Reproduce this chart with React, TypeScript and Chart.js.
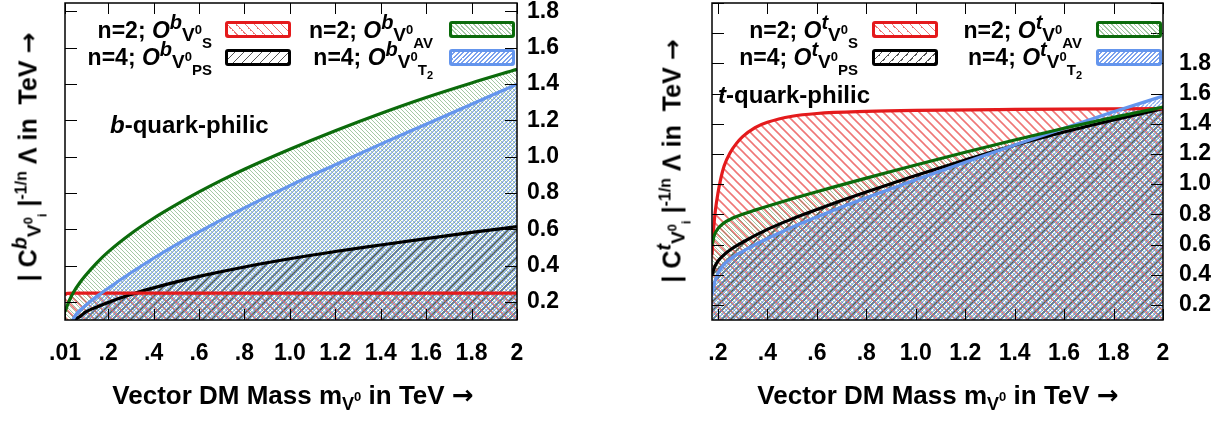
import React, { useEffect, useRef } from "react";
import { Chart, registerables } from "chart.js";
Chart.register(...registerables);

const FONT = '"Liberation Sans", Arial, Helvetica, sans-serif';
const ARROW_FONT = '"DejaVu Sans", "Liberation Sans", sans-serif';

// ---------- axis ticks ----------
const bXTicks = [0.01, 0.2, 0.4, 0.6, 0.8, 1.0, 1.2, 1.4, 1.6, 1.8, 2.0];
const bXLabels = [".01", ".2", ".4", ".6", ".8", "1.0", "1.2", "1.4", "1.6", "1.8", "2"];
const tXTicks = [0.2, 0.4, 0.6, 0.8, 1.0, 1.2, 1.4, 1.6, 1.8, 2.0];
const tXLabels = [".2", ".4", ".6", ".8", "1.0", "1.2", "1.4", "1.6", "1.8", "2"];
const bYTicks = [0.2, 0.4, 0.6, 0.8, 1.0, 1.2, 1.4, 1.6, 1.8];
const bYLabels = ["0.2", "0.4", "0.6", "0.8", "1.0", "1.2", "1.4", "1.6", "1.8"];
const tYTicks = [0.2, 0.4, 0.6, 0.8, 1.0, 1.2, 1.4, 1.6, 1.8, 2.0, 2.2];
const tYLabels = ["0.2", "0.4", "0.6", "0.8", "1.0", "1.2", "1.4", "1.6", "1.8", "", ""];

// ---------- b-quark-philic (left) ----------
const bRedMass = [0.01, 0.02, 0.05, 0.5, 1.0, 1.5, 2.0];
const bRedVal = [0.238, 0.247, 0.248, 0.248, 0.248, 0.248, 0.248];
const bGreenMass = [0.01, 0.02, 0.03, 0.05, 0.075, 0.1, 0.15, 0.2, 0.3, 0.4, 0.5, 0.6, 0.7, 0.8, 1.0, 1.2, 1.4, 1.6, 1.8, 2.0];
const bGreenVal = [0.145, 0.18, 0.21, 0.258, 0.305, 0.345, 0.415, 0.475, 0.575, 0.66, 0.735, 0.805, 0.87, 0.93, 1.04, 1.142, 1.237, 1.325, 1.405, 1.48];
const bBlueMass = [0.044, 0.06, 0.08, 0.1, 0.15, 0.2, 0.3, 0.4, 0.5, 0.6, 0.8, 1.0, 1.2, 1.4, 1.6, 1.8, 2.0];
const bBlueVal = [0.1, 0.133, 0.158, 0.18, 0.23, 0.275, 0.36, 0.44, 0.515, 0.585, 0.717, 0.84, 0.955, 1.068, 1.178, 1.288, 1.398];
const bBlackMass = [0.05, 0.08, 0.1, 0.15, 0.2, 0.3, 0.4, 0.5, 0.6, 0.8, 1.0, 1.2, 1.4, 1.6, 1.8, 2.0];
const bBlackVal = [0.1, 0.123, 0.143, 0.172, 0.197, 0.24, 0.277, 0.31, 0.34, 0.392, 0.437, 0.477, 0.513, 0.548, 0.582, 0.614];

// ---------- t-quark-philic (right) ----------
const tRedMass = [0.176, 0.18, 0.185, 0.19, 0.2, 0.21, 0.225, 0.25, 0.275, 0.3, 0.35, 0.4, 0.5, 0.6, 0.8, 1.0, 1.4, 2.0];
const tRedVal = [0.53, 0.64, 0.75, 0.83, 0.94, 1.025, 1.12, 1.21, 1.27, 1.315, 1.375, 1.41, 1.45, 1.468, 1.482, 1.489, 1.495, 1.5];
const tGreenMass = [0.176, 0.185, 0.2, 0.22, 0.25, 0.3, 0.35, 0.4, 0.5, 0.6, 0.7, 0.8, 0.9, 1.0, 1.2, 1.4, 1.6, 1.8, 2.0];
const tGreenVal = [0.6, 0.66, 0.705, 0.738, 0.767, 0.8, 0.828, 0.854, 0.903, 0.95, 0.995, 1.04, 1.084, 1.127, 1.211, 1.292, 1.37, 1.443, 1.51];
const tBlackMass = [0.176, 0.185, 0.2, 0.22, 0.25, 0.3, 0.4, 0.5, 0.6, 0.7, 0.8, 0.9, 1.0, 1.2, 1.4, 1.6, 1.8, 2.0];
const tBlackVal = [0.4, 0.445, 0.49, 0.525, 0.565, 0.615, 0.7, 0.77, 0.832, 0.891, 0.948, 1.003, 1.057, 1.16, 1.258, 1.345, 1.425, 1.5];
const tBlueMass = [0.176, 0.185, 0.2, 0.22, 0.25, 0.3, 0.4, 0.5, 0.6, 0.7, 0.8, 0.9, 1.0, 1.2, 1.4, 1.6, 1.8, 2.0];
const tBlueVal = [0.27, 0.34, 0.41, 0.46, 0.505, 0.555, 0.64, 0.715, 0.783, 0.848, 0.91, 0.97, 1.029, 1.145, 1.259, 1.371, 1.479, 1.583];

const RED = "#e41a1c";
const GREEN = "#0b6b0b";
const BLUE = "#6495ed";
const BLACK = "#000000";
const RED_H = "rgba(236,95,95,0.85)";
const GREEN_H = "rgba(90,155,90,0.55)";
const BLUE_H = "rgba(100,145,235,0.85)";
const BLACK_H = "rgba(40,40,40,0.8)";

function hatch(color: string, step: number, dir: "back" | "fwd", lw: number) {
  const c = document.createElement("canvas");
  c.width = step;
  c.height = step;
  const g = c.getContext("2d")!;
  g.strokeStyle = color;
  g.lineWidth = lw;
  g.beginPath();
  if (dir === "back") {
    g.moveTo(-1, -1); g.lineTo(step + 1, step + 1);
    g.moveTo(-1, step - 1); g.lineTo(1, step + 1);
    g.moveTo(step - 1, -1); g.lineTo(step + 1, 1);
  } else {
    g.moveTo(-1, step + 1); g.lineTo(step + 1, -1);
    g.moveTo(-1, 1); g.lineTo(1, -1);
    g.moveTo(step - 1, step + 1); g.lineTo(step + 1, step - 1);
  }
  g.stroke();
  return g.createPattern(c, "repeat")!;
}

function series(mass: number[], vals: number[], color: string, pattern: any) {
  return {
    data: mass.map((m, i) => ({ x: m, y: vals[i] })),
    borderColor: color,
    borderWidth: 3.2,
    pointRadius: 0,
    fill: "start",
    backgroundColor: pattern,
    cubicInterpolationMode: "monotone",
  };
}

const framePlugin = {
  id: "frame",
  afterDatasetsDraw(chart: any, _args: any, opts: any) {
    const { ctx, chartArea: a, scales } = chart;
    ctx.save();
    ctx.strokeStyle = "#000";
    ctx.lineWidth = 1;
    ctx.beginPath();
    for (const v of opts.xTicks) {
      const x = Math.round(scales.x.getPixelForValue(v)) + 0.5;
      ctx.moveTo(x, a.bottom); ctx.lineTo(x, a.bottom - 11);
      ctx.moveTo(x, a.top); ctx.lineTo(x, a.top + 11);
    }
    for (const v of opts.yTicks) {
      const y = Math.round(scales.y.getPixelForValue(v)) + 0.5;
      ctx.moveTo(a.left, y); ctx.lineTo(a.left + 12, y);
      ctx.moveTo(a.right, y); ctx.lineTo(a.right - 12, y);
    }
    ctx.stroke();
    ctx.lineWidth = 1.5;
    ctx.strokeRect(a.left, a.top, a.right - a.left, a.bottom - a.top);
    ctx.restore();
  },
};

type Spec = {
  datasets: any[];
  xMin: number; xMax: number; xTicks: number[]; xLabels: string[];
  yMin: number; yMax: number; yTicks: number[]; yLabels: string[];
  padLeft: number; yWidth: number; yPad: number;
};

function build(canvas: HTMLCanvasElement, s: Spec) {
  const tickFont = { family: FONT, size: 23, weight: "bold" as const };
  return new Chart(canvas, {
    type: "line",
    data: { datasets: s.datasets as any },
    options: {
      animation: false,
      responsive: false,
      events: [],
      layout: { padding: { left: s.padLeft, top: 3, right: 0, bottom: 0 } },
      plugins: {
        legend: { display: false },
        tooltip: { enabled: false },
        filler: { drawTime: "beforeDatasetsDraw" },
        frame: { xTicks: s.xTicks, yTicks: s.yTicks },
      } as any,
      scales: {
        x: {
          type: "linear",
          min: s.xMin,
          max: s.xMax,
          grid: { display: false, drawTicks: false },
          border: { display: false },
          afterBuildTicks: (sc: any) => { sc.ticks = s.xTicks.map((v) => ({ value: v })); },
          afterFit: (sc: any) => { sc.height = 101; sc.paddingLeft = 0; sc.paddingRight = 0; },
          ticks: {
            autoSkip: false, maxRotation: 0, minRotation: 0, padding: 20, color: "#000", font: tickFont,
            callback: (_v: any, i: number) => s.xLabels[i],
          },
        },
        y: {
          type: "linear",
          position: "right",
          min: s.yMin,
          max: s.yMax,
          grid: { display: false, drawTicks: false },
          border: { display: false },
          afterBuildTicks: (sc: any) => { sc.ticks = s.yTicks.map((v) => ({ value: v })); },
          afterFit: (sc: any) => { sc.width = s.yWidth; sc.paddingTop = 0; sc.paddingBottom = 0; },
          ticks: {
            autoSkip: false, padding: s.yPad, color: "#000", font: tickFont,
            callback: (_v: any, i: number) => s.yLabels[i],
          },
        },
      },
    },
    plugins: [framePlugin as any],
  });
}

const boldText: React.CSSProperties = { fontFamily: FONT, fontWeight: 700, color: "#000", whiteSpace: "nowrap", position: "absolute" };

function OpLabel({ n, q, sub, sub2 }: { n: number; q: string; sub: string; sub2?: string }) {
  return (
    <span>
      n={n}; <i>O</i>
      <span style={{ fontSize: 20, fontStyle: "italic", position: "relative", top: -9 }}>{q}</span>
      <span style={{ fontSize: 19, position: "relative", top: 3 }}>V</span>
      <span style={{ fontSize: 13, position: "relative", top: -4 }}>0</span>
      <span style={{ fontSize: 15, position: "relative", top: 10 }}>
        {sub}
        {sub2 ? <span style={{ fontSize: 11, position: "relative", top: 4 }}>{sub2}</span> : null}
      </span>
    </span>
  );
}

function Swatch({ left, top, color, hatchColor, step, dir }: { left: number; top: number; color: string; hatchColor: string; step: number; dir: "back" | "fwd" }) {
  const p = step / Math.SQRT2;
  const ang = dir === "back" ? "45deg" : "-45deg";
  return (
    <div
      style={{
        position: "absolute", left, top, width: 66, height: 17, boxSizing: "border-box",
        border: `3px solid ${color}`, borderRadius: 3,
        background: `repeating-linear-gradient(${ang}, ${hatchColor} 0px, ${hatchColor} 1.2px, transparent 1.2px, transparent ${p}px)`,
      }}
    />
  );
}

function Legend({ q, x1, s1, x2, s2 }: { q: string; x1: number; s1: number; x2: number; s2: number }) {
  const row1 = 19;
  const row2 = 46;
  const tStyle = (xEnd: number, top: number): React.CSSProperties => ({ ...boldText, fontSize: 23, lineHeight: "23px", right: 1222 - xEnd, top });
  return (
    <>
      <div style={tStyle(x1, row1)}><OpLabel n={2} q={q} sub="S" /></div>
      <Swatch left={s1} top={21} color={RED} hatchColor={RED_H} step={9} dir="back" />
      <div style={tStyle(x2, row1)}><OpLabel n={2} q={q} sub="AV" /></div>
      <Swatch left={s2} top={21} color={GREEN} hatchColor={GREEN_H} step={4.5} dir="back" />
      <div style={tStyle(x1, row2)}><OpLabel n={4} q={q} sub="PS" /></div>
      <Swatch left={s1} top={49} color={BLACK} hatchColor={BLACK_H} step={9} dir="fwd" />
      <div style={tStyle(x2, row2)}><OpLabel n={4} q={q} sub="T" sub2="2" /></div>
      <Swatch left={s2} top={49} color={BLUE} hatchColor={BLUE_H} step={4.5} dir="fwd" />
    </>
  );
}

function YTitle({ q, cx, cy }: { q: string; cx: number; cy: number }) {
  return (
    <div style={{ ...boldText, fontSize: 25, left: cx, top: cy, transform: "translate(-50%,-50%) rotate(-90deg)" }}>
      | C
      <span style={{ fontSize: 20, fontStyle: "italic", position: "relative", top: -10 }}>{q}</span>
      <span style={{ fontSize: 19, position: "relative", top: 4 }}>V</span>
      <span style={{ fontSize: 13, position: "relative", top: -4 }}>0</span>
      <span style={{ fontSize: 13, position: "relative", top: 10 }}>i</span>
      {" "}|
      <span style={{ fontSize: 16, position: "relative", top: -10 }}>-1/n</span>
      {" "}Λ in&nbsp; TeV <span style={{ fontFamily: ARROW_FONT }}>→</span>
    </div>
  );
}

function XTitle({ cx }: { cx: number }) {
  return (
    <div style={{ ...boldText, fontSize: 26, left: cx, top: 395, transform: "translate(-50%,-50%)" }}>
      Vector DM Mass m
      <span style={{ fontSize: 18, position: "relative", top: 6 }}>V</span>
      <span style={{ fontSize: 13, position: "relative", top: -3 }}>0</span>
      {" "}in TeV <span style={{ fontFamily: ARROW_FONT }}>→</span>
    </div>
  );
}

export default function App() {
  const leftRef = useRef<HTMLCanvasElement>(null);
  const rightRef = useRef<HTMLCanvasElement>(null);

  useEffect(() => {
    const pR = hatch(RED_H, 9, "back", 1.6);
    const pG = hatch(GREEN_H, 4.5, "back", 1);
    const pB = hatch(BLUE_H, 4.5, "fwd", 1.1);
    const pK = hatch(BLACK_H, 9, "fwd", 1.6);

    const left = build(leftRef.current!, {
      datasets: [
        series(bGreenMass, bGreenVal, GREEN, pG),
        series(bBlueMass, bBlueVal, BLUE, pB),
        series(bRedMass, bRedVal, RED, pR),
        series(bBlackMass, bBlackVal, BLACK, pK),
      ],
      xMin: 0.01, xMax: 2, xTicks: bXTicks, xLabels: bXLabels,
      yMin: 0.1, yMax: 1.845, yTicks: bYTicks, yLabels: bYLabels,
      padLeft: 65, yWidth: 83, yPad: 10,
    });
    const right = build(rightRef.current!, {
      datasets: [
        series(tGreenMass, tGreenVal, GREEN, pG),
        series(tBlueMass, tBlueVal, BLUE, pB),
        series(tRedMass, tRedVal, RED, pR),
        series(tBlackMass, tBlackVal, BLACK, pK),
      ],
      xMin: 0.176, xMax: 2, xTicks: tXTicks, xLabels: tXLabels,
      yMin: 0.1, yMax: 2.2, yTicks: tYTicks, yLabels: tYLabels,
      padLeft: 112, yWidth: 59, yPad: 16,
    });
    return () => {
      left.destroy();
      right.destroy();
    };
  }, []);

  return (
    <div style={{ position: "absolute", left: 0, top: 0, width: 1222, height: 421, background: "#fff", overflow: "hidden", fontFamily: FONT }}>
      <canvas ref={leftRef} width={600} height={421} style={{ position: "absolute", left: 0, top: 0 }} />
      <canvas ref={rightRef} width={622} height={421} style={{ position: "absolute", left: 600, top: 0 }} />

      <Legend q="b" x1={212} s1={225} x2={433} s2={449} />
      <Legend q="t" x1={858} s1={872} x2={1082} s2={1096} />

      <div style={{ ...boldText, fontSize: 24, left: 110, top: 111 }}><i>b</i>-quark-philic</div>
      <div style={{ ...boldText, fontSize: 24, left: 718, top: 81 }}><i>t</i>-quark-philic</div>

      <YTitle q="b" cx={28} cy={157} />
      <YTitle q="t" cx={672} cy={161} />
      <XTitle cx={293} />
      <XTitle cx={938} />
    </div>
  );
}
